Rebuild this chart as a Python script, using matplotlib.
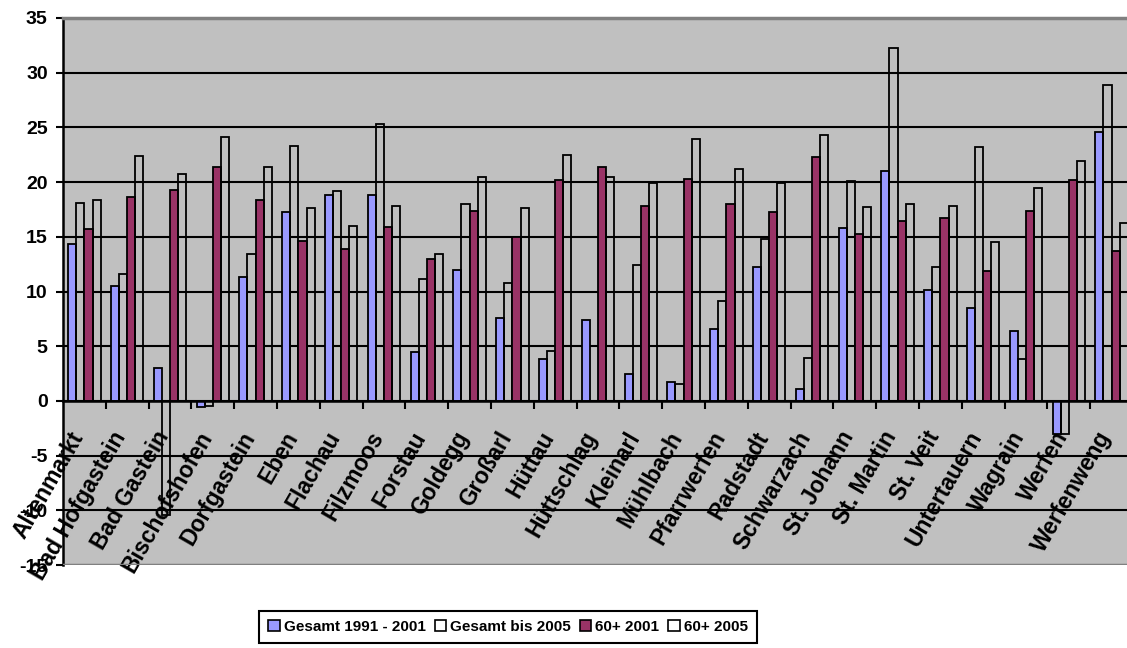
import numpy as np
import matplotlib.pyplot as plt
from matplotlib.patches import Patch
from matplotlib.transforms import ScaledTranslation

plt.rcParams['font.family'] = ['Liberation Sans', 'DejaVu Sans']
plt.rcParams['font.weight'] = 'bold'
plt.rcParams['axes.unicode_minus'] = False

gemeinden = ["Altenmarkt", "Bad Hofgastein", "Bad Gastein", "Bischofshofen", "Dorfgastein",
             "Eben", "Flachau", "Filzmoos", "Forstau", "Goldegg", "Großarl", "Hüttau",
             "Hüttschlag", "Kleinarl", "Mühlbach", "Pfarrwerfen", "Radstadt", "Schwarzach",
             "St. Johann", "St. Martin", "St. Veit", "Untertauern", "Wagrain", "Werfen",
             "Werfenweng"]

# Veränderung in %
gesamt_91_01 = [14.3, 10.5, 3.0, -0.55, 11.3, 17.3, 18.8, 18.8, 4.5, 12.0, 7.6, 3.8, 7.4,
                2.5, 1.7, 6.6, 12.2, 1.1, 15.8, 21.0, 10.1, 8.5, 6.4, -3.0, 24.6]
gesamt_bis_05 = [18.1, 11.6, -10.4, -0.45, 13.4, 23.3, 19.2, 25.3, 11.1, 18.0, 10.8, 4.6, np.nan,
                 12.4, 1.5, 9.1, 14.8, 3.9, 20.1, 32.3, 12.2, 23.2, 3.8, -3.0, 28.9]
plus60_01 = [15.7, 18.6, 19.3, 21.4, 18.4, 14.6, 13.9, 15.9, 13.0, 17.4, 15.0, 20.2, 21.4,
             17.8, 20.3, 18.0, 17.3, 22.3, 15.3, 16.4, 16.7, 11.9, 17.4, 20.2, 13.7]
plus60_05 = [18.4, 22.4, 20.7, 24.1, 21.4, 17.6, 16.0, 17.8, 13.4, 20.5, 17.6, 22.5, 20.5,
             19.9, 23.9, 21.2, 19.9, 24.3, 17.7, 18.0, 17.8, 14.5, 19.5, 21.9, 16.3]

serien = ["Gesamt 1991 - 2001", "Gesamt bis 2005", "60+ 2001", "60+ 2005"]
farben = ['#9999FF', 'white', '#993366', 'white']

fig = plt.figure(figsize=(11.27, 6.48), dpi=100)
ax = fig.add_axes([63 / 1127, 83 / 648, 1070 / 1127, 547 / 648])
ax.set_facecolor('#C0C0C0')
ax.set_xlim(-0.5, 24.5)
ax.set_ylim(-15, 35)

# horizontale Gitterlinien
ax.hlines(np.arange(-10, 31, 5), -0.5, 24.5, color='black', lw=1.5, zorder=0.5)
ax.axhline(-15, color='#808080', lw=2.5, zorder=3)

x = np.arange(len(gemeinden))
w = 0.19
daten = [gesamt_91_01, gesamt_bis_05, plus60_01, plus60_05]
for k, (werte, farbe) in enumerate(zip(daten, farben)):
    fc = 'none' if farbe == 'white' else farbe
    ax.bar(x + (k - 1.5) * w, werte, w, facecolor=fc, edgecolor='black', lw=1.3, zorder=2)

ax.spines['right'].set_visible(False)
ax.spines['top'].set_color('#808080')
ax.spines['top'].set_linewidth(2.5)
ax.spines['left'].set_linewidth(1.8)
ax.spines['bottom'].set_position(('data', 0))
ax.spines['bottom'].set_linewidth(1.8)
ax.spines['bottom'].set_zorder(3)

ax.set_yticks(np.arange(-15, 36, 5))
ax.tick_params(axis='y', length=5, width=1.5, pad=6, labelsize=14)

ax.set_xticks(x)
ax.set_xticklabels(gemeinden, rotation=60, ha='right', rotation_mode='anchor',
                   fontsize=16.5, fontweight='bold')
ax.set_xticks(x + 0.5, minor=True)
ax.tick_params(axis='x', which='major', length=0, pad=19)
ax.tick_params(axis='x', which='minor', length=6, width=1.5, direction='out')
verschiebung = ScaledTranslation(-0.16, 0, fig.dpi_scale_trans)
for lbl in ax.get_xticklabels():
    lbl.set_transform(lbl.get_transform() + verschiebung)

handles = [Patch(facecolor=f, edgecolor='black', lw=1.2) for f in farben]
leg = fig.legend(handles, serien, loc='center', bbox_to_anchor=(508 / 1127, 1 - 627 / 648),
                 ncol=4, fancybox=False, edgecolor='black', framealpha=1,
                 prop={'weight': 'bold', 'size': 11}, handlelength=0.75, handleheight=0.75,
                 handletextpad=0.25, columnspacing=0.6, borderpad=0.6, borderaxespad=0)
leg.get_frame().set_linewidth(1.5)

fig.savefig('out.png', dpi=100)
